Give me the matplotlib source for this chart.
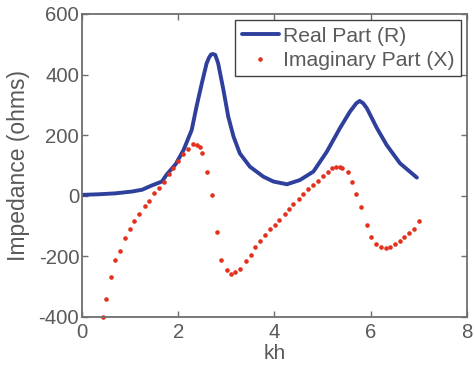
import matplotlib
matplotlib.use("Agg")
import matplotlib.pyplot as plt

# Real part (R)
kh_real = [0.0, 0.35, 0.69, 1.04, 1.25, 1.45, 1.66, 1.76, 1.95, 2.11, 2.28, 2.38,
           2.49, 2.59, 2.64, 2.68, 2.72, 2.77, 2.83, 2.94, 3.04, 3.15, 3.28, 3.49,
           3.77, 3.98, 4.26, 4.53, 4.81, 5.09, 5.36, 5.57, 5.70, 5.77, 5.84, 5.92,
           6.13, 6.33, 6.61, 6.96]
r_vals = [3, 5, 8, 14, 20, 34, 47, 70, 105, 151, 217, 294,
          371, 437, 456, 466, 468, 465, 437, 349, 261, 195, 140, 96,
          63, 47, 38, 52, 80, 146, 223, 278, 305, 313, 306, 289,
          223, 168, 107, 60]

# Imaginary part (X) - dots
kh_imag = [0.44, 0.50, 0.60, 0.69, 0.79, 0.90, 1.00, 1.09, 1.19, 1.30, 1.40, 1.50,
           1.60, 1.71, 1.80, 1.90, 2.00, 2.10, 2.20, 2.31, 2.40, 2.45, 2.49, 2.60,
           2.70, 2.80, 2.89, 3.01, 3.10, 3.19, 3.28, 3.40, 3.51, 3.60, 3.69, 3.80,
           3.91, 4.01, 4.10, 4.21, 4.30, 4.39, 4.50, 4.60, 4.70, 4.80, 4.91, 5.00,
           5.11, 5.19, 5.28, 5.36, 5.41, 5.52, 5.61, 5.70, 5.80, 5.92, 6.01, 6.11,
           6.21, 6.31, 6.40, 6.51, 6.60, 6.70, 6.80, 6.91, 7.00]
x_vals = [-401, -342, -268, -213, -181, -138, -110, -82, -59, -34, -16, 8,
          26, 45, 71, 92, 114, 137, 155, 171, 169, 162, 140, 80,
          2, -120, -212, -245, -259, -251, -242, -215, -195, -168, -150, -129,
          -111, -96, -81, -60, -44, -28, -11, 6, 21, 35, 50, 65,
          80, 91, 94, 94, 91, 78, 47, 6, -38, -96, -137, -159,
          -168, -171, -168, -159, -150, -135, -122, -109, -83]

x_ticks = [0, 2, 4, 6, 8]
y_ticks = [-400, -200, 0, 200, 400, 600]

plt.rcParams['font.family'] = ['Liberation Sans', 'DejaVu Sans']
plt.rcParams['axes.unicode_minus'] = False
gray = '#6e6e6e'
text_gray = '#5a5a5a'

fig = plt.figure(figsize=(4.75, 3.71), dpi=100)
ax = fig.add_axes([0.1726, 0.1456, 0.983 - 0.1726, 0.9623 - 0.1456])

ax.plot(kh_real, r_vals, color='#2e3f9c', lw=2.8, label='Real Part (R)',
        solid_joinstyle='round', solid_capstyle='round')
ax.plot(kh_imag, x_vals, 'o', color='#e2321e', markersize=3.3, markeredgewidth=0,
        label='Imaginary Part (X)', clip_on=False)

ax.set_xlim(0, 8)
ax.set_ylim(-400, 600)
ax.set_xticks(x_ticks)
ax.set_yticks(y_ticks)
ax.tick_params(direction='in', top=True, right=True, length=4, width=1,
               colors=gray, labelcolor=text_gray, labelsize=14.7)
ax.tick_params(axis='x', pad=4)
ax.tick_params(axis='y', pad=2)
for s in ax.spines.values():
    s.set_color(gray)
    s.set_linewidth(1.3)

ax.set_xlabel('kh', fontsize=15, color=text_gray, labelpad=2)
ax.set_ylabel('Impedance (ohms)', fontsize=16.5, color=text_gray, labelpad=6)

leg = ax.legend(loc='upper right', fontsize=15.2, frameon=True, fancybox=False,
                framealpha=1, edgecolor='#404040', borderaxespad=0.3,
                handlelength=1.75, handletextpad=0.2, borderpad=0.3,
                labelspacing=0.25, markerscale=1.0)
leg.get_frame().set_linewidth(1.0)
for t in leg.get_texts():
    t.set_color(text_gray)

fig.savefig('out.png', dpi=100)
